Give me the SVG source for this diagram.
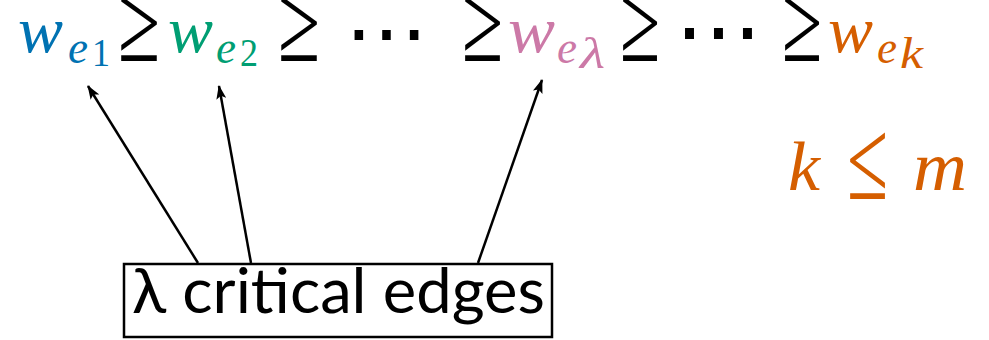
<svg xmlns="http://www.w3.org/2000/svg" width="989" height="340" viewBox="0 0 989 340">
<style>
.b{fill:#0072B2}.g{fill:#009E73}.p{fill:#CC79A7}.o{fill:#D55E00}.k{fill:#000}
.conn line{stroke:#000;stroke-width:2.5;marker-end:url(#ah)}
</style>
<defs>
<marker id="ah" viewBox="0 0 14 10" refX="13" refY="5" markerWidth="14" markerHeight="10" markerUnits="userSpaceOnUse" orient="auto">
<path d="M0,0 L14,5 L0,10 L3,5 Z" fill="#000"/>
</marker>
</defs>
<g id="sequence">
<text class="b" font-family="Liberation Serif, serif" font-style="italic" x="18" y="52" font-size="65" textLength="45" lengthAdjust="spacingAndGlyphs">w</text>
<text class="b" font-family="Liberation Serif, serif" font-style="italic" x="68" y="63" font-size="46" textLength="20" lengthAdjust="spacingAndGlyphs">e</text>
<text class="b" font-family="Liberation Serif, serif" x="92" y="66" font-size="40" textLength="18" lengthAdjust="spacingAndGlyphs">1</text>
<text class="k" font-family="Liberation Serif, serif" x="118" y="61" font-size="114" textLength="42" lengthAdjust="spacingAndGlyphs">≥</text>
<text class="g" font-family="Liberation Serif, serif" font-style="italic" x="168" y="52" font-size="65" textLength="45" lengthAdjust="spacingAndGlyphs">w</text>
<text class="g" font-family="Liberation Serif, serif" font-style="italic" x="216" y="63" font-size="46" textLength="20" lengthAdjust="spacingAndGlyphs">e</text>
<text class="g" font-family="Liberation Serif, serif" x="240" y="66" font-size="40" textLength="18" lengthAdjust="spacingAndGlyphs">2</text>
<text class="k" font-family="Liberation Serif, serif" x="278" y="61" font-size="114" textLength="42" lengthAdjust="spacingAndGlyphs">≥</text>
<text class="k" font-family="Liberation Serif, serif" x="345" y="61" font-size="83">⋯</text>
<text class="k" font-family="Liberation Serif, serif" x="462" y="61" font-size="114" textLength="41" lengthAdjust="spacingAndGlyphs">≥</text>
<text class="p" font-family="Liberation Serif, serif" font-style="italic" x="508" y="52" font-size="65" textLength="47" lengthAdjust="spacingAndGlyphs">w</text>
<text class="p" font-family="Liberation Serif, serif" font-style="italic" x="557" y="63" font-size="46" textLength="20" lengthAdjust="spacingAndGlyphs">e</text>
<text class="p" font-family="Liberation Serif, serif" font-style="italic" x="580" y="68" font-size="44" textLength="25" lengthAdjust="spacingAndGlyphs">λ</text>
<text class="k" font-family="Liberation Serif, serif" x="620" y="61" font-size="114" textLength="40" lengthAdjust="spacingAndGlyphs">≥</text>
<text class="k" font-family="Liberation Serif, serif" x="675" y="61" font-size="87">⋯</text>
<text class="k" font-family="Liberation Serif, serif" x="782" y="61" font-size="114" textLength="40" lengthAdjust="spacingAndGlyphs">≥</text>
<text class="o" font-family="Liberation Serif, serif" font-style="italic" x="828" y="52" font-size="65" textLength="45" lengthAdjust="spacingAndGlyphs">w</text>
<text class="o" font-family="Liberation Serif, serif" font-style="italic" x="877" y="63" font-size="46" textLength="20" lengthAdjust="spacingAndGlyphs">e</text>
<text class="o" font-family="Liberation Serif, serif" font-style="italic" x="900" y="68" font-size="44" textLength="23" lengthAdjust="spacingAndGlyphs">k</text>
</g>
<g id="constraint">
<text class="o" font-family="Liberation Serif, serif" font-style="italic" x="788" y="190" font-size="69" textLength="32" lengthAdjust="spacingAndGlyphs">k</text>
<text class="o" font-family="Liberation Serif, serif" x="847" y="199" font-size="116" textLength="41" lengthAdjust="spacingAndGlyphs">≤</text>
<text class="o" font-family="Liberation Serif, serif" font-style="italic" x="913" y="190" font-size="70" textLength="54" lengthAdjust="spacingAndGlyphs">m</text>
</g>
<g id="critical-edges">
<rect x="124" y="264" width="428" height="73" fill="#fff" stroke="#000" stroke-width="2.5"/>
<text class="k" font-family="Lato, sans-serif" x="132" y="313" font-size="62" textLength="413" lengthAdjust="spacingAndGlyphs">λ critical edges</text>
</g>
<g class="conn" id="connectors">
<line x1="198" y1="263" x2="88" y2="86"/>
<line x1="251" y1="263" x2="219" y2="86"/>
<line x1="478" y1="263" x2="542" y2="80"/>
</g>
</svg>
